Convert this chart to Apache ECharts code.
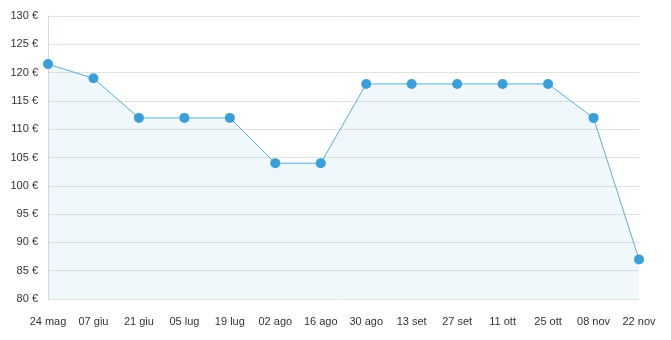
<!DOCTYPE html>
<html><head><meta charset="utf-8">
<script src="https://cdn.jsdelivr.net/npm/echarts@6/dist/echarts.min.js"></script>
<style>html,body{margin:0;padding:0;background:#fff}#c{width:671px;height:340px}</style>
</head><body><div id="c"></div>
<script>
const categories = ["24 mag","07 giu","21 giu","05 lug","19 lug","02 ago","16 ago","30 ago","13 set","27 set","11 ott","25 ott","08 nov","22 nov"];
const prices = [121.5,119,112,112,112,104,104,118,118,118,118,118,112,87];
const chart = echarts.init(document.getElementById('c'));
chart.setOption({
  animation:false,
  grid:{left:48,right:32,top:16,bottom:41},
  xAxis:{type:'category',data:categories,boundaryGap:false,
    axisLine:{show:false},axisTick:{show:false},
    axisLabel:{color:'#333',fontSize:11,fontFamily:'Arial, Liberation Sans, sans-serif',margin:17,interval:0},
    splitLine:{show:false}},
  yAxis:{type:'value',min:80,max:130,interval:5,
    axisLine:{show:true,lineStyle:{color:'#cfdde6'}},axisTick:{show:false},
    axisLabel:{color:'#333',fontSize:11,fontFamily:'Arial, Liberation Sans, sans-serif',margin:10,formatter:v=>v+' €'},
    splitLine:{lineStyle:{color:'#e2e2e2'}}},
  series:[{type:'line',data:prices,symbol:'circle',symbolSize:10,
    lineStyle:{color:'#5aaed6',width:1},
    itemStyle:{color:'#3a9fd8'},
    areaStyle:{color:'rgba(160,210,235,0.22)'}}]
});
</script></body></html>
